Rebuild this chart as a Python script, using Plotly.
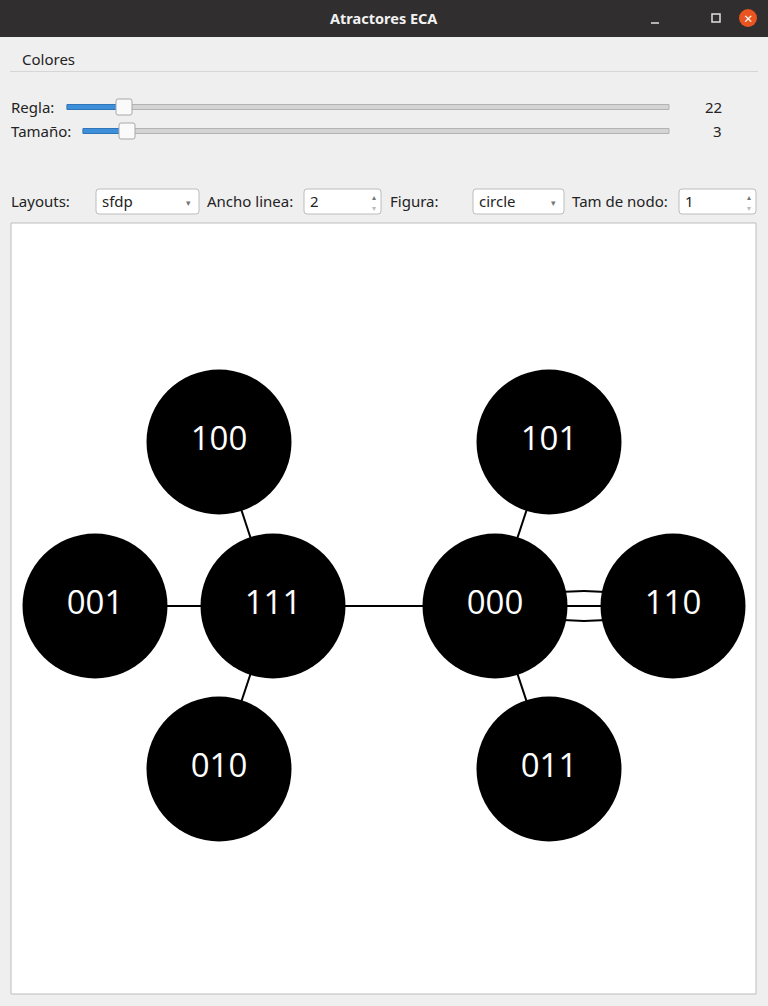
import plotly.graph_objects as go

# graph data (sfdp layout positions, in canvas pixels)
node_labels = ['100', '101', '001', '111', '000', '110', '010', '011']
node_x = [219, 549, 95, 273, 495, 673, 219, 549]
node_y = [442, 442, 606, 606, 606, 606, 769, 769]
edges = [('100', '111'), ('001', '111'), ('010', '111'), ('111', '000'),
         ('101', '000'), ('011', '000'), ('000', '110')]
multi_edges = [('000', '110', -30), ('000', '110', 30)]

regla = 22
tamano = 3
layout_name = 'sfdp'
ancho_linea = 2
figura = 'circle'
tam_nodo = 1

W, H = 768, 1006
ui_font = 'Noto Sans'
pos = {n: (x, y) for n, x, y in zip(node_labels, node_x, node_y)}

fig = go.Figure()

# edges
for a, b in edges:
    fig.add_trace(go.Scatter(x=[pos[a][0], pos[b][0]], y=[pos[a][1], pos[b][1]],
                             mode='lines', line=dict(color='black', width=ancho_linea),
                             hoverinfo='skip', showlegend=False))

# nodes
fig.add_trace(go.Scatter(x=node_x, y=node_y, mode='markers+text', text=node_labels,
                         textposition='middle center',
                         textfont=dict(color='white', size=33, family='Open Sans'),
                         marker=dict(color='black', size=145, line=dict(width=0)),
                         hoverinfo='text', showlegend=False))

shapes = []
ann = []


def rect(x0, y0, x1, y1, fill, line='rgba(0,0,0,0)', lw=1):
    shapes.append(dict(type='rect', xref='x', yref='y', x0=x0, y0=y0, x1=x1, y1=y1,
                       fillcolor=fill, line=dict(color=line, width=lw), layer='below'))


def text(x, y, s, size=15, color='#232323', anchor='left', bold=False, family=ui_font):
    if bold:
        s = '<b>' + s + '</b>'
    ann.append(dict(x=x, y=y, xref='x', yref='y', text=s, showarrow=False,
                    xanchor=anchor, yanchor='middle',
                    font=dict(size=size, color=color, family=family)))


# window chrome
rect(0, 0, W, 37, '#302e2e')
text(W / 2, 18, 'Atractores ECA', size=14.5, color='#f2f2f2', anchor='center', bold=True)
shapes.append(dict(type='line', x0=651, x1=659, y0=23, y1=23, line=dict(color='#e0e0e0', width=1.5), layer='below'))
rect(712, 14, 720, 22, 'rgba(0,0,0,0)', '#e0e0e0', 1.5)
shapes.append(dict(type='circle', x0=739, x1=757, y0=9, y1=27, fillcolor='#e95420',
                   line=dict(width=0), layer='below'))
text(748, 18, '×', size=15, color='white', anchor='center')

# menu
text(20, 59, 'Colores')
shapes.append(dict(type='line', x0=10, x1=758, y0=71.5, y1=71.5, line=dict(color='#d6d6d6', width=1), layer='below'))


def slider(label, y, x0, xh, value):
    text(9, y, label)
    rect(x0, y - 2.5, 669, y + 2.5, '#d4d4d4', '#b3b3b3', 1)
    rect(x0, y - 2.5, xh, y + 2.5, '#3c8fd8', '#2f76b8', 1)
    shapes.append(dict(type='path', layer='below',
                       path=f'M {xh-6},{y-8} L {xh+6},{y-8} Q {xh+8},{y-8} {xh+8},{y-6} '
                            f'L {xh+8},{y+6} Q {xh+8},{y+8} {xh+6},{y+8} L {xh-6},{y+8} '
                            f'Q {xh-8},{y+8} {xh-8},{y+6} L {xh-8},{y-6} Q {xh-8},{y-8} {xh-6},{y-8} Z',
                       fillcolor='#fafafa', line=dict(color='#a8a8a8', width=1)))
    text(724, y, str(value), anchor='right')


slider('Regla:', 107, 67, 124, regla)
slider('Tamaño:', 131, 83, 127, tamano)


def box(x0, x1, y0=189, y1=214):
    shapes.append(dict(type='path', layer='below',
                       path=f'M {x0+3},{y0} L {x1-3},{y0} Q {x1},{y0} {x1},{y0+3} L {x1},{y1-3} '
                            f'Q {x1},{y1} {x1-3},{y1} L {x0+3},{y1} Q {x0},{y1} {x0},{y1-3} '
                            f'L {x0},{y0+3} Q {x0},{y0} {x0+3},{y0} Z',
                       fillcolor='white', line=dict(color='#bcbcbc', width=1)))


def combo(x0, x1, value):
    box(x0, x1)
    text(x0 + 4, 201, value)
    text(x1 - 11, 202, '▾', size=9, color='#777777', anchor='center')


def spin(x0, x1, value):
    box(x0, x1)
    text(x0 + 4, 201, str(value))
    text(x1 - 7, 196, '▴', size=8, color='#777777', anchor='center')
    text(x1 - 7, 207, '▾', size=8, color='#bbbbbb', anchor='center')


text(9, 201, 'Layouts:')
combo(96, 199, layout_name)
text(205, 201, 'Ancho linea:')
spin(304, 381, ancho_linea)
text(388, 201, 'Figura:')
combo(473, 564, figura)
text(570, 201, 'Tam de nodo:')
spin(679, 756, tam_nodo)

# canvas
rect(11, 223, 756, 994, 'white', '#bdbdbd', 1)

# extra arcs between the same pair of nodes
for a, b, off in multi_edges:
    (xa, ya), (xb, yb) = pos[a], pos[b]
    cx, cy = (xa + xb) / 2, (ya + yb) / 2 + off
    shapes.append(dict(type='path', layer='below', path=f'M {xa},{ya} Q {cx},{cy} {xb},{yb}',
                       line=dict(color='black', width=ancho_linea)))

fig.update_layout(
    width=W, height=H, autosize=False,
    margin=dict(l=0, r=0, t=0, b=0),
    paper_bgcolor='#efefef', plot_bgcolor='#efefef',
    xaxis=dict(range=[0, W], visible=False, fixedrange=True),
    yaxis=dict(range=[H, 0], visible=False, fixedrange=True),
    shapes=shapes, annotations=ann,
    showlegend=False,
)
fig.write_html("out.html", config={'displayModeBar': False},
               post_script="document.body.style.margin='0';")
